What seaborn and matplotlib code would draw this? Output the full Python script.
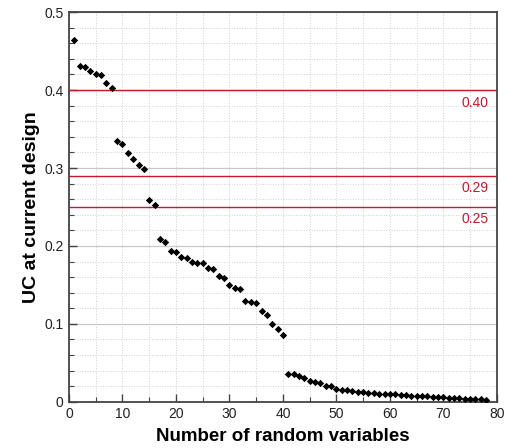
import numpy as np
import pandas as pd
import matplotlib
matplotlib.use("Agg")
import matplotlib.pyplot as plt
import matplotlib.transforms as mtransforms
from matplotlib.ticker import MultipleLocator
import seaborn as sns

# ----------------------------------------------------------
# Data
# ----------------------------------------------------------
n_vars = list(range(1, 79))
uc_values = [
    0.464, 0.431, 0.429, 0.425, 0.421, 0.419, 0.409, 0.402,
    0.334, 0.331, 0.319, 0.311, 0.304, 0.299,
    0.259, 0.252,
    0.209, 0.205, 0.193, 0.192, 0.186, 0.184, 0.179, 0.178, 0.178,
    0.172, 0.170, 0.161, 0.159, 0.150, 0.146, 0.145, 0.130, 0.128,
    0.127, 0.116, 0.112, 0.100, 0.093, 0.086,
    0.0355, 0.0355, 0.033, 0.030, 0.027, 0.025, 0.024, 0.0205, 0.020,
    0.0165, 0.015, 0.0147, 0.014, 0.0132, 0.0128, 0.012, 0.0115,
    0.0107, 0.0105, 0.0102, 0.0098, 0.009, 0.0085, 0.008, 0.0077,
    0.0073, 0.007, 0.0064, 0.006, 0.0056, 0.0053, 0.005, 0.0047,
    0.0043, 0.004, 0.004, 0.0036, 0.002,
]
thresholds = [0.40, 0.29, 0.25]
threshold_labels = ["0.40", "0.29", "0.25"]

df = pd.DataFrame({"n": n_vars, "uc": uc_values})

# ----------------------------------------------------------
# Plot
# ----------------------------------------------------------
sns.set_style("white")
plt.rcParams["font.family"] = ["Liberation Sans", "DejaVu Sans"]

fig = plt.figure(figsize=(5.13, 4.48), dpi=100)
ax = fig.add_axes([0.1345, 0.103, 0.834, 0.870])

sns.scatterplot(data=df, x="n", y="uc", marker="D", s=14, color="black",
                linewidth=0, ax=ax, zorder=3)

red = "#c8192b"
blend = mtransforms.blended_transform_factory(ax.transAxes, ax.transData)
for t, lab in zip(thresholds, threshold_labels):
    ax.axhline(t, color=red, lw=1.0, zorder=2)
    ax.text(0.981, t - 0.007, lab, color=red, fontsize=10,
            ha="right", va="top", transform=blend)

ax.set_xlim(0, 80)
ax.set_ylim(0, 0.5)
ax.xaxis.set_major_locator(MultipleLocator(10))
ax.xaxis.set_minor_locator(MultipleLocator(5))
ax.yaxis.set_major_locator(MultipleLocator(0.1))
ax.yaxis.set_minor_locator(MultipleLocator(0.02))
ax.set_yticks([0, 0.1, 0.2, 0.3, 0.4, 0.5])
ax.set_yticklabels(["0", "0.1", "0.2", "0.3", "0.4", "0.5"])

ax.grid(True, which="major", axis="y", color="#c8c8c8", lw=0.9, ls="-")
ax.grid(True, which="minor", axis="y", color="#d0d0d0", lw=0.7, ls=":")
ax.grid(True, which="both", axis="x", color="#d0d0d0", lw=0.7, ls=":")
ax.set_axisbelow(True)

ax.tick_params(axis="both", which="both", bottom=True, left=True,
               top=False, right=False)
ax.tick_params(axis="both", which="major", direction="in", length=6,
               width=1.0, color="#444444", labelsize=10, labelcolor="#222222",
               pad=4)
ax.tick_params(axis="both", which="minor", direction="in", length=3.5,
               width=0.8, color="#444444")
for side in ax.spines.values():
    side.set_color("#444444")
    side.set_linewidth(1.3)

ax.set_xlabel("Number of random variables", fontsize=13.5, fontweight="bold",
              labelpad=5, color="black")
ax.set_ylabel("UC at current design", fontsize=14, fontweight="bold",
              labelpad=3, color="black")

plt.savefig("out.png", dpi=100)
